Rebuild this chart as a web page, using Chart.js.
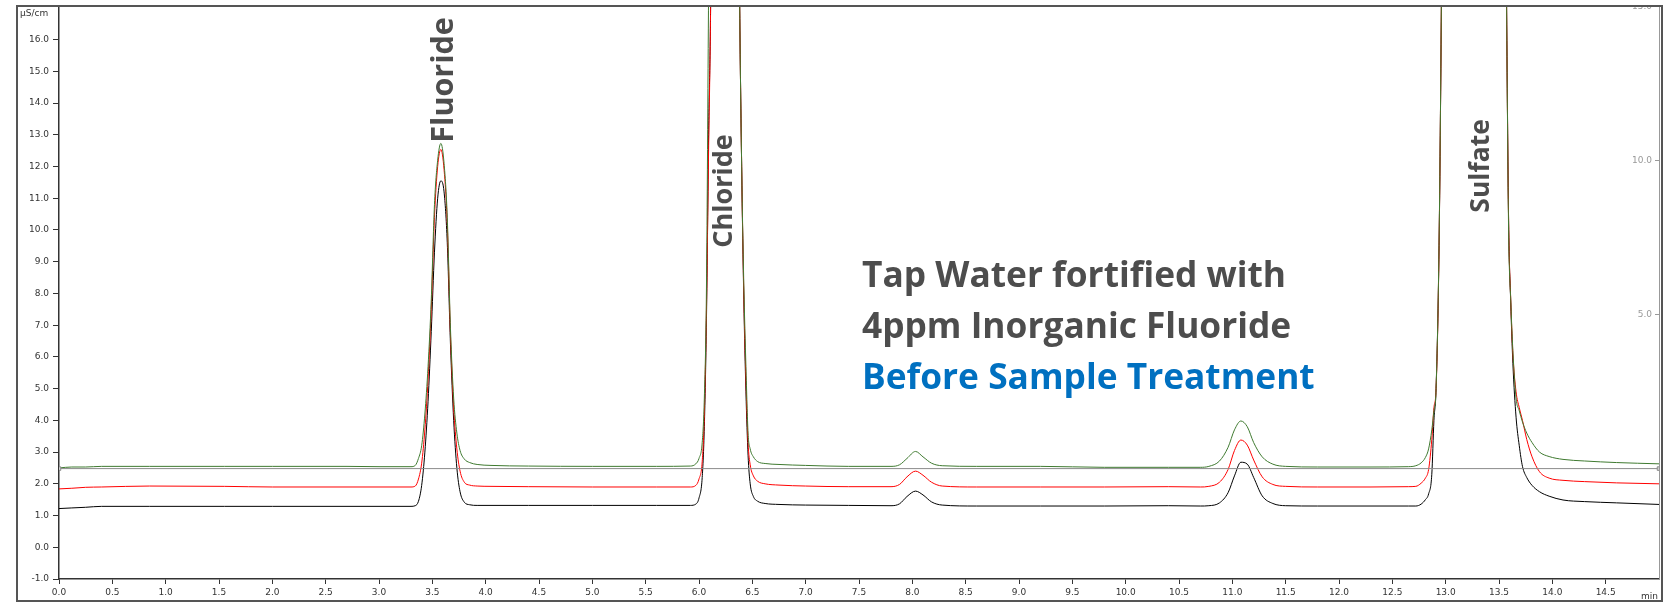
<!DOCTYPE html>
<html>
<head>
<meta charset="utf-8">
<script src="https://cdn.jsdelivr.net/npm/chart.js@4.4.1/dist/chart.umd.min.js"></script>
<style>
  html, body { margin: 0; padding: 0; background: #fff; }
  #wrap { width: 1665px; height: 602px; }
</style>
</head>
<body>
<div id="wrap"><canvas id="chromatogram" width="1665" height="602"></canvas></div>
<script>
// retention time (min), shared by the three traces
const retentionTime = [
    0.00, 0.12, 0.25, 0.40, 0.85, 1.55, 2.00, 2.70, 3.00, 3.30,
    3.34, 3.37, 3.40, 3.43, 3.46, 3.49, 3.52, 3.55, 3.58, 3.61, 3.64, 3.67, 3.70, 3.73, 3.76, 3.80, 3.85, 3.92, 4.05, 4.40, 5.00, 5.60,
    5.92, 5.97, 6.00, 6.03, 6.05, 6.07, 6.09, 6.11, 6.15, 6.23, 6.31, 6.35, 6.38, 6.40, 6.42, 6.44, 6.46, 6.48, 6.51, 6.55, 6.62, 6.75, 7.00, 7.40,
    7.80, 7.88, 7.95, 8.03, 8.10, 8.18, 8.28, 8.60, 9.20, 9.80, 10.40, 10.70,
    10.78, 10.88, 10.96, 11.02, 11.08, 11.14, 11.20, 11.28, 11.38, 11.50, 11.80, 12.30, 12.65,
    12.72, 12.77, 12.81, 12.84, 12.87, 12.89, 12.91, 12.94, 12.97, 13.02, 13.26, 13.52, 13.57, 13.59, 13.61, 13.63, 13.66, 13.69, 13.72, 13.76, 13.81, 13.88, 13.97, 14.10, 14.30, 14.60, 15.00
];

// conductivity (µS/cm), green trace
const conductivityGreen = [
    2.50, 2.53, 2.53, 2.55, 2.55, 2.55, 2.55, 2.55, 2.54, 2.54,
    2.58, 2.80, 3.20, 4.20, 5.70, 7.80, 10.80, 12.20, 12.73, 12.10, 10.40, 6.90, 4.70, 3.60, 3.05, 2.78, 2.67, 2.61, 2.58, 2.56, 2.55, 2.55,
    2.56, 2.63, 2.80, 3.30, 4.70, 8.20, 17.5, 26.0, 45.0, 60.0, 45.0, 30.0, 17.5, 12.0, 8.30, 5.70, 3.60, 3.10, 2.85, 2.70, 2.64, 2.61, 2.58, 2.55,
    2.55, 2.60, 2.80, 3.02, 2.85, 2.65, 2.57, 2.55, 2.55, 2.52, 2.52, 2.52,
    2.55, 2.72, 3.15, 3.70, 3.98, 3.80, 3.30, 2.85, 2.62, 2.55, 2.53, 2.53, 2.54,
    2.57, 2.66, 2.83, 3.10, 3.70, 4.30, 5.00, 10.1, 21.0, 40.0, 60.0, 40.0, 17.5, 10.0, 7.80, 6.20, 4.70, 4.30, 3.95, 3.60, 3.30, 3.00, 2.86, 2.77, 2.72, 2.67, 2.63
];

// red trace
const conductivityRed = [
    1.84, 1.86, 1.89, 1.90, 1.93, 1.92, 1.90, 1.90, 1.90, 1.90,
    1.93, 2.15, 2.65, 3.70, 5.30, 7.50, 10.40, 12.00, 12.54, 11.90, 10.20, 6.70, 4.40, 3.10, 2.40, 2.05, 1.96, 1.93, 1.92, 1.91, 1.90, 1.90,
    1.90, 1.95, 2.15, 2.70, 4.20, 7.50, 12.5, 17.5, 40.0, 60.0, 45.0, 30.0, 17.5, 12.0, 8.00, 5.30, 3.30, 2.60, 2.25, 2.08, 2.00, 1.96, 1.93, 1.91,
    1.91, 1.98, 2.22, 2.40, 2.27, 2.05, 1.93, 1.90, 1.90, 1.90, 1.91, 1.90,
    1.92, 2.05, 2.45, 3.05, 3.38, 3.22, 2.75, 2.22, 1.98, 1.92, 1.90, 1.90, 1.91,
    1.92, 2.02, 2.18, 2.45, 3.40, 4.40, 5.00, 10.0, 21.0, 40.0, 60.0, 40.0, 17.5, 10.3, 7.80, 6.10, 4.90, 4.40, 4.00, 3.40, 2.85, 2.38, 2.18, 2.11, 2.07, 2.03, 2.00
];

// black trace
const conductivityBlack = [
    1.22, 1.24, 1.26, 1.29, 1.29, 1.29, 1.29, 1.29, 1.29, 1.29,
    1.31, 1.45, 1.95, 3.00, 4.60, 6.80, 9.30, 11.00, 11.55, 11.20, 9.60, 6.40, 4.00, 2.50, 1.75, 1.42, 1.34, 1.32, 1.32, 1.32, 1.32, 1.32,
    1.32, 1.36, 1.55, 2.20, 3.80, 7.20, 13.0, 17.5, 40.0, 60.0, 45.0, 30.0, 17.5, 12.0, 7.80, 4.90, 2.90, 2.00, 1.60, 1.45, 1.38, 1.35, 1.33, 1.32,
    1.31, 1.37, 1.60, 1.77, 1.65, 1.43, 1.33, 1.30, 1.30, 1.30, 1.31, 1.30,
    1.31, 1.40, 1.72, 2.25, 2.68, 2.62, 2.20, 1.62, 1.38, 1.31, 1.30, 1.30, 1.30,
    1.30, 1.36, 1.50, 1.68, 2.30, 4.00, 5.00, 10.0, 21.0, 40.0, 60.0, 40.0, 17.5, 10.3, 7.70, 5.80, 4.10, 3.20, 2.55, 2.20, 1.95, 1.75, 1.61, 1.49, 1.44, 1.40, 1.35
];

// zero line of the right-hand axis
const offsetLineTime = [0.0, 15.0];
const offsetLineValue = [0.0, 0.0];

const peakNames = ["Fluoride", "Chloride", "Sulfate"];
const peakLabelTimes = [3.61, 6.24, 13.34];
const titleLines = ["Tap Water fortified with", "4ppm Inorganic Fluoride", "Before Sample Treatment"];
const yUnitLabel = "µS/cm";
const xUnitLabel = "min";

function toPoints(times, values) {
    return times.map((t, i) => ({ x: t, y: values[i] }));
}

const tickFont = { family: "'DejaVu Sans'", size: 9 };
const fmt = v => Number(v).toFixed(1);

// labels, frame and texts drawn on top
const overlay = {
    id: 'overlay',
    afterDraw(chart) {
        const c = chart.ctx;
        const area = chart.chartArea;
        const xs = chart.scales.x;
        const ys = chart.scales.y;
        const yr = chart.scales.y2;
        c.save();

        // right axis: small ticks and labels inside the plot
        c.strokeStyle = '#999';
        c.fillStyle = '#999';
        c.lineWidth = 1;
        c.font = "9px 'DejaVu Sans'";
        c.textAlign = 'right';
        c.textBaseline = 'middle';
        yr.ticks.forEach(t => {
            const py = Math.round(yr.getPixelForValue(t.value)) + 0.5;
            c.beginPath();
            c.moveTo(area.right - 4, py);
            c.lineTo(area.right, py);
            c.stroke();
            c.fillText(fmt(t.value), area.right - 7, py);
        });

        // white strip above the frame
        c.fillStyle = '#fff';
        c.fillRect(0, 0, chart.width, 5);

        // frame
        c.strokeStyle = '#555';
        c.lineWidth = 2;
        c.strokeRect(17, 6, 1645, 595);

        // unit labels
        c.fillStyle = '#333';
        c.font = "9px 'DejaVu Sans'";
        c.textBaseline = 'middle';
        c.textAlign = 'left';
        c.fillText(yUnitLabel, 20, 14);
        c.textAlign = 'right';
        c.fillText(xUnitLabel, area.right - 1, 597);

        // peak names
        const levels = [14.73, 11.23, 12.02];
        const sizes = [30.5, 27, 26.5];
        c.fillStyle = '#4d4d4d';
        c.textAlign = 'center';
        c.textBaseline = 'middle';
        peakNames.forEach((name, i) => {
            c.save();
            c.font = "bold " + sizes[i] + "px 'Open Sans'";
            c.translate(xs.getPixelForValue(peakLabelTimes[i]), ys.getPixelForValue(levels[i]));
            c.rotate(-Math.PI / 2);
            c.fillText(name, 0, 0);
            c.restore();
        });

        // sample description
        c.font = "bold 35.3px 'Open Sans'";
        c.textAlign = 'left';
        c.textBaseline = 'alphabetic';
        titleLines.forEach((line, i) => {
            c.fillStyle = i === 2 ? '#0070c0' : '#4d4d4d';
            c.fillText(line, 862, 287 + i * 51);
        });

        c.restore();
    }
};

const traceStyle = {
    borderWidth: 1,
    pointRadius: 0,
    cubicInterpolationMode: 'monotone',
    fill: false,
    yAxisID: 'y'
};

const ctx = document.getElementById('chromatogram');

const chromatogram = new Chart(ctx, {
    type: 'line',
    data: {
        datasets: [
            Object.assign({ label: 'Black', data: toPoints(retentionTime, conductivityBlack), borderColor: '#000000', order: 3 }, traceStyle),
            Object.assign({ label: 'Red', data: toPoints(retentionTime, conductivityRed), borderColor: '#ff0000', order: 2 }, traceStyle),
            Object.assign({ label: 'Green', data: toPoints(retentionTime, conductivityGreen), borderColor: '#3f7a30', order: 1 }, traceStyle),
            {
                label: 'Offset',
                data: toPoints(offsetLineTime, offsetLineValue),
                yAxisID: 'y2',
                borderColor: '#8c8c8c',
                borderWidth: 1,
                pointStyle: 'rect',
                pointRadius: 2.5,
                pointBackgroundColor: '#d0d0d0',
                pointBorderColor: '#8c8c8c',
                order: 0
            }
        ]
    },
    options: {
        responsive: false,
        animation: false,
        layout: { padding: { left: 17, top: 6, right: 2, bottom: 1 } },
        plugins: {
            legend: { display: false },
            tooltip: { enabled: false }
        },
        scales: {
            x: {
                type: 'linear',
                min: 0,
                max: 15,
                ticks: { stepSize: 0.5, autoSkip: false, maxRotation: 0, padding: 3, font: tickFont, color: '#333', callback: fmt },
                grid: { drawOnChartArea: false, tickLength: 5, color: '#333' },
                border: { color: '#333', width: 1.5 },
                afterBuildTicks: s => { s.ticks = s.ticks.filter(t => t.value <= 14.5); },
                afterFit: s => { s.height = 22; s.paddingLeft = 0; s.paddingRight = 0; }
            },
            y: {
                position: 'left',
                min: -1,
                max: 17.06,
                ticks: { stepSize: 1, autoSkip: false, padding: 4, font: tickFont, color: '#333', callback: fmt },
                grid: { drawOnChartArea: false, tickLength: 6, color: '#333' },
                border: { color: '#333', width: 1.5 },
                afterBuildTicks: s => { s.ticks = s.ticks.filter(t => t.value <= 16 && Number.isInteger(t.value)); },
                afterFit: s => { s.width = 42; s.paddingTop = 0; s.paddingBottom = 0; }
            },
            y2: {
                position: 'right',
                min: -3.58,
                max: 15,
                ticks: { stepSize: 5, display: false },
                grid: { display: false },
                border: { color: '#999', width: 1 },
                afterBuildTicks: s => { s.ticks = s.ticks.filter(t => t.value >= 5); },
                afterFit: s => { s.width = 4; s.paddingTop = 0; s.paddingBottom = 0; }
            }
        }
    },
    plugins: [overlay]
});
</script>
</body>
</html>
